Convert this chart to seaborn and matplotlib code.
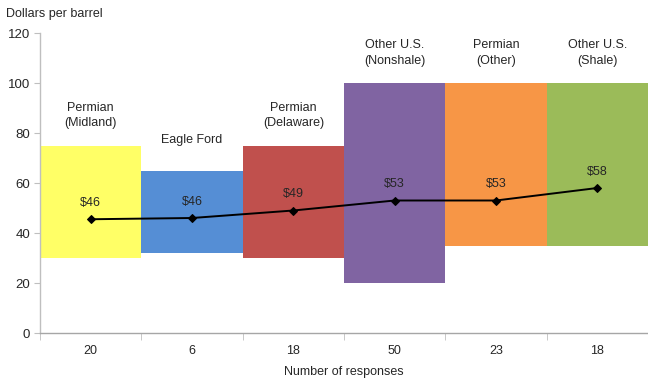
import matplotlib
matplotlib.use("Agg")
import matplotlib.pyplot as plt
import seaborn as sns
import pandas as pd
import numpy as np

regions = ["Permian\n(Midland)", "Eagle Ford", "Permian\n(Delaware)",
           "Other U.S.\n(Nonshale)", "Permian\n(Other)", "Other U.S.\n(Shale)"]
responses = ["20", "6", "18", "50", "23", "18"]
low = [30, 32, 30, 20, 35, 35]
high = [75, 65, 75, 100, 100, 100]
avg = [45.5, 46, 49, 53, 53, 58]
avg_labels = ["$46", "$46", "$49", "$53", "$53", "$58"]
colors = ["#FFFF66", "#558ED5", "#C0504D", "#8064A2", "#F79646", "#9BBB59"]

sns.set_style("white")
plt.rcParams["font.family"] = ["Liberation Sans Narrow", "Liberation Sans", "DejaVu Sans"]

df = pd.DataFrame({"region": regions, "low": low, "high": high, "avg": avg})
df["span"] = df["high"] - df["low"]

fig = plt.figure(figsize=(6.48, 3.82), dpi=100)
ax = fig.add_axes([40 / 648, 1 - 333 / 382, 608 / 648, 300 / 382])

sns.barplot(data=df, x="region", y="span", bottom=df["low"].values, width=1.0,
            color="gray", ax=ax, linewidth=0)
for p, c in zip(ax.patches, colors):
    p.set_facecolor(c)
    p.set_edgecolor("none")

pos = np.arange(len(regions))
sns.lineplot(x=pos, y=df["avg"], ax=ax, color="black", marker="D",
             markersize=4, linewidth=1.4, markeredgecolor="black")

txtcol = "#262626"
fs = 9
for i in range(len(regions)):
    ax.text(i, avg[i] + 6.5, avg_labels[i], ha="center", va="center",
            fontsize=fs, color=txtcol)
    ax.text(i, high[i] + 12, regions[i], ha="center", va="center",
            fontsize=fs, color=txtcol, linespacing=1.4)

ax.set_xlim(-0.5, 5.5)
ax.set_ylim(0, 120)
ax.set_yticks(range(0, 121, 20))
ax.set_xticks(pos)
ax.set_xticklabels(responses)
ax.set_xticks(np.arange(-0.5, 6.0, 1.0), minor=True)
ax.tick_params(axis="x", which="major", length=0, pad=9, labelsize=fs, labelcolor=txtcol)
ax.tick_params(axis="x", which="minor", length=5, color="#BFBFBF", bottom=True)
ax.tick_params(axis="y", length=4, color="#BFBFBF", labelsize=fs + 0.5, labelcolor=txtcol, left=True, pad=3)
ax.set_xlabel("Number of responses", fontsize=fs, color=txtcol, labelpad=6)
ax.set_ylabel("")
for s in ["top", "right"]:
    ax.spines[s].set_visible(False)
for s in ["left", "bottom"]:
    ax.spines[s].set_color("#BFBFBF")
    ax.spines[s].set_linewidth(1.0)
ax.spines["bottom"].set_color("#A6A6A6")

fig.text(6 / 648, 1 - 14 / 382, "Dollars per barrel", fontsize=fs, color=txtcol,
         ha="left", va="center")

fig.savefig("out.png", dpi=100)
